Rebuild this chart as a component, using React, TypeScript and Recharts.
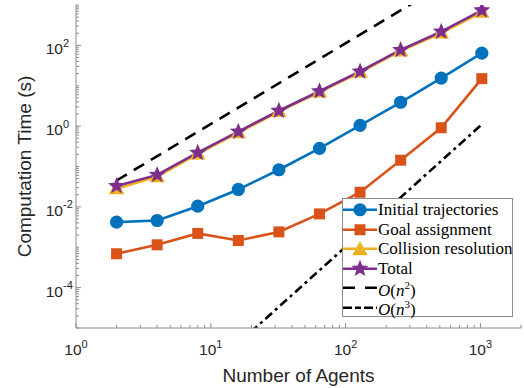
import { LineChart, Line, XAxis, YAxis, Legend, Label } from 'recharts';

// number of agents (x) and timings in seconds
const agents = [2, 4, 8, 16, 32, 64, 128, 256, 512, 1024];
const initialTrajectories = [0.0042, 0.0046, 0.0104, 0.027, 0.083, 0.28, 1.04, 3.9, 15.5, 64];
const goalAssignment = [0.00069, 0.00115, 0.0022, 0.00147, 0.0024, 0.0067, 0.023, 0.143, 0.91, 15];
const collisionResolution = [0.028, 0.056, 0.205, 0.69, 2.3, 7.0, 21.5, 73, 203, 665];
const total = [0.033, 0.062, 0.22, 0.73, 2.4, 7.3, 22.6, 77, 219, 740];
// reference slopes: only the two end points, joined in log-log space
const orderN2 = [0.045, null, null, null, null, null, null, null, null, 11800];
const orderN3 = [8.2e-9, null, null, null, null, null, null, null, null, 1.1];

const xMajor = [1, 10, 100, 1000];
const yMajor = [1e-4, 1e-2, 1, 100];
const xDecades = [1, 10, 100, 1000];
const yDecades = [1e-5, 1e-4, 1e-3, 1e-2, 1e-1, 1, 10, 100];
const minorSteps = [2, 3, 4, 5, 6, 7, 8, 9];

const xTicks = [...xDecades.flatMap((d) => [d, ...minorSteps.map((k) => k * d)]).filter((v) => v <= 2000)];
const yTicks = [...yDecades.flatMap((d) => [d, ...minorSteps.map((k) => k * d)]), 1000];

const data = agents.map((n, i) => ({
  n,
  initial: initialTrajectories[i],
  goal: goalAssignment[i],
  collision: collisionResolution[i],
  total: total[i],
  o2: orderN2[i],
  o3: orderN3[i],
}));

const BLUE = '#0072BD';
const ORANGE = '#D95319';
const YELLOW = '#EDB120';
const PURPLE = '#7E2F8E';
const AX = '#8c8c8c';
const TXT = '#262626';
const SANS = "'Liberation Sans', Arial, Helvetica, sans-serif";
const SERIF = "'Liberation Serif', 'Times New Roman', serif";

const isNear = (a: number, b: number) => Math.abs(a - b) < 1e-6;

function AxisTick(props: any) {
  const { x, y, payload, side } = props;
  const v = payload.value as number;
  const lg = Math.log10(v);
  const e = Math.round(lg);
  const horizontal = side === 'bottom' || side === 'top';
  const majorList = horizontal ? xMajor : yMajor;
  const major = majorList.some((m) => isNear(Math.log10(m), lg));
  const len = major ? 5 : 3;
  let line;
  if (side === 'bottom') line = <line x1={x} y1={y} x2={x} y2={y - len} stroke={AX} />;
  else if (side === 'top') line = <line x1={x} y1={y} x2={x} y2={y + len} stroke={AX} />;
  else if (side === 'left') line = <line x1={x} y1={y} x2={x + len} y2={y} stroke={AX} />;
  else line = <line x1={x} y1={y} x2={x - len} y2={y} stroke={AX} />;
  let label = null;
  if (major && side === 'bottom') {
    label = (
      <text x={x} y={y + 27} textAnchor="middle" fill={TXT} fontSize={15.5} fontFamily={SANS}>
        <tspan>10</tspan>
        <tspan dy={-7.5} fontSize={11}>{e}</tspan>
      </text>
    );
  } else if (major && side === 'left') {
    label = (
      <g fill={TXT} fontFamily={SANS}>
        <text x={x - 13} y={y + 9} textAnchor="end" fontSize={15.5}>10</text>
        <text x={x - 13} y={y + 1.5} textAnchor="start" fontSize={11}>{e}</text>
      </g>
    );
  }
  return (
    <g>
      {line}
      {label}
    </g>
  );
}

function starPath(cx: number, cy: number, R: number, r: number) {
  let d = '';
  for (let i = 0; i < 10; i++) {
    const a = -Math.PI / 2 + (i * Math.PI) / 5;
    const rad = i % 2 === 0 ? R : r;
    d += (i === 0 ? 'M' : 'L') + (cx + rad * Math.cos(a)).toFixed(2) + ',' + (cy + rad * Math.sin(a)).toFixed(2);
  }
  return d + 'Z';
}

const triPath = (cx: number, cy: number) =>
  `M${cx},${cy - 8.5}L${cx + 7.8},${cy + 5.5}L${cx - 7.8},${cy + 5.5}Z`;

const circleDot = (p: any) => <circle key={`c${p.index}`} cx={p.cx} cy={p.cy} r={6.6} fill={BLUE} />;
const squareDot = (p: any) => (
  <rect key={`s${p.index}`} x={p.cx - 5.5} y={p.cy - 5.5} width={11} height={11} fill={ORANGE} />
);
const triDot = (p: any) => <path key={`t${p.index}`} d={triPath(p.cx, p.cy)} fill={YELLOW} />;
const starDot = (p: any) => <path key={`p${p.index}`} d={starPath(p.cx, p.cy, 9, 3.9)} fill={PURPLE} />;

const legendRows = [
  { name: 'Initial trajectories', color: BLUE, marker: 'circle' },
  { name: 'Goal assignment', color: ORANGE, marker: 'square' },
  { name: 'Collision resolution', color: YELLOW, marker: 'triangle' },
  { name: 'Total', color: PURPLE, marker: 'star' },
  { name: 'n2', color: '#000', marker: 'dash' },
  { name: 'n3', color: '#000', marker: 'dashdot' },
];

function LegendBox() {
  return (
    <div
      style={{
        width: 171,
        height: 119,
        border: `1px solid ${AX}`,
        background: '#fff',
        fontFamily: SERIF,
        fontSize: 17,
        color: '#000',
        paddingTop: 1,
        boxSizing: 'border-box',
      }}
    >
      {legendRows.map((r) => {
        const cy = 9.75;
        let mark = null;
        if (r.marker === 'circle') mark = <circle cx={17} cy={cy} r={6.6} fill={r.color} />;
        if (r.marker === 'square') mark = <rect x={11.5} y={cy - 5.5} width={11} height={11} fill={r.color} />;
        if (r.marker === 'triangle') mark = <path d={triPath(17, cy + 1)} fill={r.color} />;
        if (r.marker === 'star') mark = <path d={starPath(17, cy, 9, 3.9)} fill={r.color} />;
        const dash = r.marker === 'dash' ? '12 10' : r.marker === 'dashdot' ? '9 3 6 3' : undefined;
        return (
          <div key={r.name} style={{ display: 'flex', alignItems: 'center', height: 19.5 }}>
            <svg width={35} height={19.5} style={{ flex: 'none' }}>
              <line x1={0} y1={cy} x2={34} y2={cy} stroke={r.color} strokeWidth={2.6} strokeDasharray={dash} />
              {mark}
            </svg>
            <span style={{ whiteSpace: 'nowrap', lineHeight: '19.5px' }}>
              {r.name === 'n2' ? (
                <>
                  <i>O</i>(<i>n</i>
                  <sup style={{ fontSize: 11, verticalAlign: 7 }}>2</sup>)
                </>
              ) : r.name === 'n3' ? (
                <>
                  <i>O</i>(<i>n</i>
                  <sup style={{ fontSize: 11, verticalAlign: 7 }}>3</sup>)
                </>
              ) : (
                r.name
              )}
            </span>
          </div>
        );
      })}
    </div>
  );
}

const XTitle = (p: any) => {
  const vb = p.viewBox;
  return (
    <text x={vb.x + vb.width / 2} y={vb.y + 54} textAnchor="middle" fill={TXT} fontSize={19} fontFamily={SANS}>
      Number of Agents
    </text>
  );
};

const YTitle = (p: any) => {
  const vb = p.viewBox;
  const cx = vb.x + 31;
  const cy = vb.y + vb.height / 2;
  return (
    <text
      x={cx}
      y={cy}
      transform={`rotate(-90 ${cx} ${cy})`}
      textAnchor="middle"
      fill={TXT}
      fontSize={19}
      fontFamily={SANS}
    >
      Computation Time (s)
    </text>
  );
};

export default function App() {
  return (
    <div style={{ position: 'absolute', left: 0, top: 0, width: 524, height: 388, background: '#fff' }}>
      <LineChart width={524} height={388} data={data} margin={{ top: 5, right: 3, bottom: 0, left: 0 }}>
        <XAxis
          xAxisId="b"
          dataKey="n"
          type="number"
          scale="log"
          domain={[1, 2000]}
          allowDataOverflow
          ticks={xTicks}
          interval={0}
          tick={(p: any) => <AxisTick {...p} side="bottom" />}
          tickLine={false}
          tickSize={0}
          tickMargin={0}
          axisLine={{ stroke: AX }}
          height={60}
        >
          <Label content={XTitle} />
        </XAxis>
        <XAxis
          xAxisId="t"
          orientation="top"
          dataKey="n"
          type="number"
          scale="log"
          domain={[1, 2000]}
          allowDataOverflow
          ticks={xTicks}
          interval={0}
          tick={(p: any) => <AxisTick {...p} side="top" />}
          tickLine={false}
          tickSize={0}
          tickMargin={0}
          axisLine={{ stroke: AX }}
          height={0}
        />
        <YAxis
          yAxisId="l"
          type="number"
          scale="log"
          domain={[1e-5, 1e3]}
          allowDataOverflow
          ticks={yTicks}
          interval={0}
          tick={(p: any) => <AxisTick {...p} side="left" />}
          tickLine={false}
          tickSize={0}
          tickMargin={0}
          axisLine={{ stroke: AX }}
          width={76}
        >
          <Label content={YTitle} />
        </YAxis>
        <YAxis
          yAxisId="r"
          orientation="right"
          type="number"
          scale="log"
          domain={[1e-5, 1e3]}
          allowDataOverflow
          ticks={yTicks}
          interval={0}
          tick={(p: any) => <AxisTick {...p} side="right" />}
          tickLine={false}
          tickSize={0}
          tickMargin={0}
          axisLine={{ stroke: AX }}
          width={0}
        />
        <Legend
          layout="vertical"
          align="center"
          verticalAlign="middle"
          content={() => <LegendBox />}
          wrapperStyle={{ left: 342, top: 198, width: 171, height: 119 }}
        />
        <Line xAxisId="b" yAxisId="l" dataKey="initial" stroke={BLUE} strokeWidth={2.6} dot={circleDot} isAnimationActive={false} />
        <Line xAxisId="b" yAxisId="l" dataKey="goal" stroke={ORANGE} strokeWidth={2.6} dot={squareDot} isAnimationActive={false} />
        <Line xAxisId="b" yAxisId="l" dataKey="collision" stroke={YELLOW} strokeWidth={2.6} dot={triDot} isAnimationActive={false} />
        <Line xAxisId="b" yAxisId="l" dataKey="total" stroke={PURPLE} strokeWidth={2.6} dot={starDot} isAnimationActive={false} />
        <Line xAxisId="b" yAxisId="l" dataKey="o2" stroke="#000" strokeWidth={2.6} strokeDasharray="12 8" dot={false} connectNulls isAnimationActive={false} />
        <Line xAxisId="b" yAxisId="l" dataKey="o3" stroke="#000" strokeWidth={2.6} strokeDasharray="9 4 3 4" dot={false} connectNulls isAnimationActive={false} />
      </LineChart>
    </div>
  );
}
